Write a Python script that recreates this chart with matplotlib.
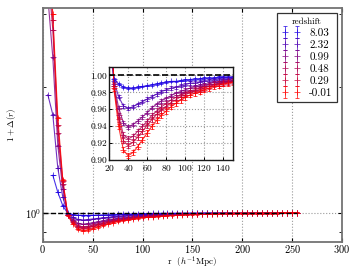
import matplotlib
matplotlib.use("Agg")
import matplotlib.pyplot as plt
from matplotlib.ticker import NullFormatter, FixedLocator

plt.rcParams['font.family'] = 'cmr10'
plt.rcParams['mathtext.fontset'] = 'cm'
plt.rcParams['axes.unicode_minus'] = False
plt.rcParams['axes.formatter.use_mathtext'] = True

# separation r (h^-1 Mpc)
r = [5, 10, 15, 20, 25, 30, 35, 40, 45, 50, 55, 60, 65, 70, 75, 80, 85, 90, 95, 100,
     105, 110, 115, 120, 125, 130, 135, 140, 145, 150, 155, 160, 165, 170, 175, 180,
     185, 190, 195, 200, 205, 210, 215, 220, 225, 230, 235, 240, 245, 250, 255]
r_high = r[1:38]   # z = 8.03 only goes 10..190

redshifts = ["8.03", "2.32", "0.99", "0.48", "0.29", "-0.01"]
colors = ["#1c00e3", "#4d00b3", "#800080", "#ad0052", "#c70038", "#ff0000"]
errs = [0.001, 0.002, 0.002, 0.003, 0.003, 0.003]

d_803 = [1.23, 1.12, 1.04, 0.996, 0.990, 0.986, 0.985, 0.985, 0.986, 0.987, 0.988,
         0.989, 0.990, 0.991, 0.992, 0.993, 0.993, 0.994, 0.995, 0.995, 0.996, 0.996,
         0.997, 0.997, 0.997, 0.998, 0.998, 0.998, 0.998, 0.998, 0.999, 0.999, 0.999,
         0.999, 0.999, 0.999, 0.999]
d_232 = [1.92, 1.72, 1.28, 1.09, 0.994, 0.975, 0.964, 0.961, 0.963, 0.966, 0.969,
         0.972, 0.975, 0.978, 0.981, 0.983, 0.985, 0.986, 0.988, 0.989, 0.991, 0.991,
         0.992, 0.993, 0.994, 0.995, 0.995, 0.996, 0.996, 0.997, 0.997, 0.997, 0.997,
         0.998, 0.998, 0.998, 0.998, 0.998, 0.998, 0.999, 0.999, 0.999, 0.999, 0.999,
         0.999, 0.999, 0.999, 0.999, 0.999, 0.999, 0.999]
d_099 = [3.3, 2.36, 1.45, 1.14, 0.990, 0.962, 0.944, 0.939, 0.942, 0.946, 0.951,
         0.956, 0.962, 0.966, 0.970, 0.973, 0.976, 0.979, 0.981, 0.983, 0.985, 0.987,
         0.988, 0.989, 0.990, 0.992, 0.992, 0.994, 0.994, 0.995, 0.995, 0.996, 0.996,
         0.996, 0.997, 0.997, 0.997, 0.997, 0.998, 0.998, 0.998, 0.998, 0.998, 0.998,
         0.999, 0.999, 0.999, 0.999, 0.999, 0.999, 0.999]
d_048 = [3.8, 2.75, 1.55, 1.17, 0.988, 0.953, 0.930, 0.925, 0.928, 0.934, 0.940,
         0.946, 0.953, 0.958, 0.963, 0.967, 0.971, 0.974, 0.977, 0.979, 0.982, 0.983,
         0.985, 0.987, 0.988, 0.990, 0.991, 0.992, 0.993, 0.994, 0.994, 0.995, 0.995,
         0.996, 0.996, 0.996, 0.997, 0.997, 0.997, 0.997, 0.998, 0.998, 0.998, 0.998,
         0.998, 0.998, 0.999, 0.999, 0.999, 0.999, 0.999]
d_029 = [4.2, 2.9, 1.62, 1.19, 0.987, 0.948, 0.923, 0.917, 0.921, 0.927, 0.934,
         0.941, 0.948, 0.954, 0.959, 0.963, 0.968, 0.971, 0.975, 0.977, 0.980, 0.982,
         0.983, 0.985, 0.987, 0.989, 0.990, 0.991, 0.992, 0.993, 0.994, 0.994, 0.995,
         0.995, 0.996, 0.996, 0.996, 0.997, 0.997, 0.997, 0.997, 0.997, 0.998, 0.998,
         0.998, 0.998, 0.998, 0.999, 0.999, 0.999, 0.999]
d_m001 = [4.5, 3.0, 1.69, 1.20, 0.985, 0.940, 0.912, 0.905, 0.909, 0.916, 0.924,
          0.932, 0.940, 0.947, 0.953, 0.958, 0.963, 0.967, 0.971, 0.974, 0.977, 0.979,
          0.981, 0.983, 0.985, 0.987, 0.988, 0.990, 0.991, 0.992, 0.993, 0.994, 0.994,
          0.995, 0.995, 0.996, 0.996, 0.996, 0.997, 0.997, 0.997, 0.997, 0.998, 0.998,
          0.998, 0.998, 0.998, 0.999, 0.999, 0.999, 0.999]

series = [(r_high, d_803), (r, d_232), (r, d_099), (r, d_048), (r, d_029), (r, d_m001)]

fig = plt.figure(figsize=(3.6, 2.69), dpi=100)
ax = fig.add_axes([0.119, 0.100, 0.831, 0.870])
ins = fig.add_axes([0.303, 0.405, 0.344, 0.346])


def draw(a, labels):
    for (x, y), z, c, e in zip(series, redshifts, colors, errs):
        a.plot(x, y, "-", color=c, lw=0.8, alpha=0.8)
        a.errorbar(x, y, yerr=e, fmt="+", color=c, ms=4, mew=0.7, elinewidth=0.7,
                   capsize=1.5, alpha=0.7, label=z if labels else None)


draw(ax, True)
ax.hlines(1, 0, r[-1], colors="k", linestyles="--", lw=1.0, zorder=5)
ax.set_yscale("log")
ax.set_xlim(0, 300)
ax.set_ylim(0.85, 3.1)
ax.set_xticks([0, 50, 100, 150, 200, 250, 300])
ax.yaxis.set_minor_locator(FixedLocator([0.9, 2, 3]))
ax.yaxis.set_minor_formatter(NullFormatter())
ax.grid(True, which="major", ls=":", color="0.6", lw=0.8)
ax.tick_params(direction="in", labelsize=7.5, length=3, width=0.8, top=True, right=True, pad=1)
ax.tick_params(which="minor", direction="in", length=2, right=True)
ax.set_xlabel(r"r  ($h^{-1}$Mpc)", fontsize=6.5)
ax.xaxis.set_label_coords(0.5, -0.055)
ax.set_ylabel(r"$1+\Delta(r)$", fontsize=6.5, labelpad=5)
for s in ax.spines.values():
    s.set_color("0.45")
    s.set_linewidth(1.3)

leg = ax.legend(title="redshift", loc="upper right", numpoints=2, fontsize=8,
                title_fontsize=6.5, fancybox=False, edgecolor="0.2", framealpha=1,
                handlelength=1.7, handletextpad=0.8, labelspacing=0.2,
                borderaxespad=0.45, borderpad=0.4)
leg.get_frame().set_linewidth(0.9)

draw(ins, False)
ins.axhline(1, color="k", ls="--", lw=1.2, zorder=5)
ins.set_xlim(20, 150)
ins.set_ylim(0.90, 1.01)
ins.set_xticks([20, 40, 60, 80, 100, 120, 140])
ins.set_yticks([0.90, 0.92, 0.94, 0.96, 0.98, 1.00])
ins.set_yticklabels(["0.90", "0.92", "0.94", "0.96", "0.98", "1.00"])
ins.grid(True, ls=":", color="0.6", lw=0.8)
ins.tick_params(direction="in", labelsize=6.8, length=2, width=0.7)
ins.tick_params(axis="x", pad=2)
ins.tick_params(axis="y", pad=1.5)
for s in ins.spines.values():
    s.set_color("0.1")
    s.set_linewidth(1.0)

fig.savefig("out.png", dpi=100)
